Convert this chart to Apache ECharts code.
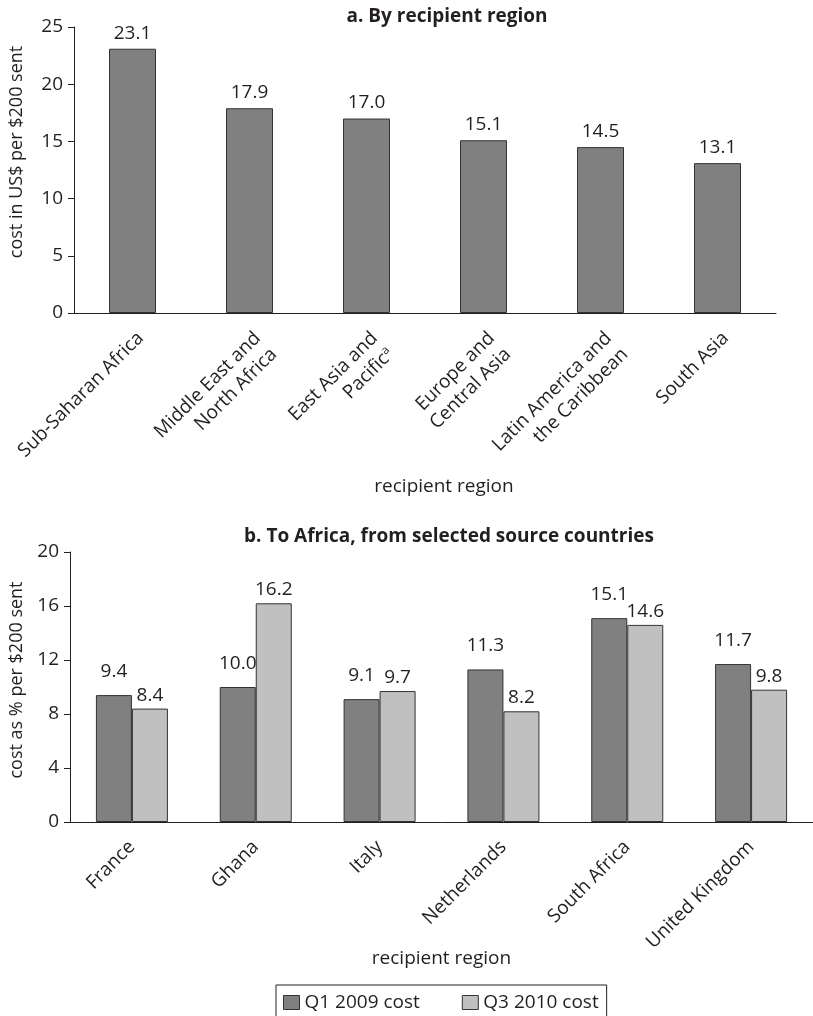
<!DOCTYPE html>
<html>
<head>
<meta charset="utf-8">
<script src="https://cdn.jsdelivr.net/npm/echarts@6/dist/echarts.min.js"></script>
<style>
html,body{margin:0;padding:0;background:#fff;}
#chart{width:813px;height:1016px;}
</style>
</head>
<body>
<div id="chart"></div>
<script>
// Panel a
const regionCategories = ['Sub-Saharan Africa', 'Middle East and\nNorth Africa', 'East Asia and\nPacific{sup|a}', 'Europe and\nCentral Asia', 'Latin America and\nthe Caribbean', 'South Asia'];
const regionCost = [23.1, 17.9, 17.0, 15.1, 14.5, 13.1];
const regionTicks = [0, 5, 10, 15, 20, 25];

// Panel b
const sourceCountries = ['France', 'Ghana', 'Italy', 'Netherlands', 'South Africa', 'United Kingdom'];
const q1_2009 = [9.4, 10.0, 9.1, 11.3, 15.1, 11.7];
const q3_2010 = [8.4, 16.2, 9.7, 8.2, 14.6, 9.8];
const sourceTicks = [0, 4, 8, 12, 16, 20];

const seriesNames = ['Q1 2009 cost', 'Q3 2010 cost'];
const titles = ['a. By recipient region', 'b. To Africa, from selected source countries'];
const xName = 'recipient region';
const yNames = ['cost in US$ per $200 sent', 'cost as % per $200 sent'];

const FONT = 'Open Sans';
const FS = 19;
const TXT = '#231f20';
const DARK = '#808080';
const LIGHT = '#c0c0c0';
const EDGE = '#333333';

const chart = echarts.init(document.getElementById('chart'), null, {renderer: 'canvas'});
chart.setOption({
  animation: false,
  backgroundColor: '#fff',
  textStyle: {fontFamily: FONT, color: TXT},
  title: [
    {text: titles[0], left: 442, top: 2, textAlign: 'center',
     textStyle: {fontFamily: FONT, fontWeight: 'bold', fontSize: 19, color: TXT}},
    {text: titles[1], left: 444, top: 522, textAlign: 'center',
     textStyle: {fontFamily: FONT, fontWeight: 'bold', fontSize: 19, color: TXT}}
  ],
  legend: {
    data: seriesNames,
    left: 276, top: 985,
    padding: [8, 8, 10, 7],
    itemWidth: 16, itemHeight: 14, itemGap: 42,
    borderColor: TXT, borderWidth: 1,
    icon: 'rect',
    textStyle: {fontFamily: FONT, fontSize: FS, color: TXT},
    itemStyle: {borderColor: EDGE, borderWidth: 1}
  },
  grid: [
    {left: 74, top: 27, width: 702, height: 286},
    {left: 70, top: 552, width: 747, height: 270}
  ],
  xAxis: [
    {type: 'category', gridIndex: 0, data: regionCategories,
     axisLine: {lineStyle: {color: TXT, width: 1}}, axisTick: {length: 6, lineStyle: {color: TXT}},
     axisLabel: {rotate: 45, margin: 14, verticalAlign: 'top', fontFamily: FONT, fontSize: FS, color: TXT, interval: 0,
       lineHeight: 23, rich: {sup: {fontSize: 12, padding: [0, 0, 9, 0], fontFamily: FONT, color: TXT}}},
     name: xName, nameLocation: 'middle', nameGap: 164, nameMoveOverlap: false,
     nameTextStyle: {fontFamily: FONT, fontSize: FS, color: TXT, padding: [0, 0, 0, 38]}},
    {type: 'category', gridIndex: 1, data: sourceCountries,
     axisLine: {lineStyle: {color: TXT, width: 1}}, axisTick: {length: 6, lineStyle: {color: TXT}},
     axisLabel: {rotate: 45, margin: 22, fontFamily: FONT, fontSize: FS, color: TXT, interval: 0},
     name: xName, nameLocation: 'middle', nameGap: 127, nameMoveOverlap: false,
     nameTextStyle: {fontFamily: FONT, fontSize: FS, color: TXT}}
  ],
  yAxis: [
    {type: 'value', gridIndex: 0, min: regionTicks[0], max: regionTicks[regionTicks.length - 1], interval: 5,
     axisLine: {show: true, lineStyle: {color: TXT}}, axisTick: {show: true, length: 6, lineStyle: {color: TXT}},
     splitLine: {show: false},
     axisLabel: {fontFamily: FONT, fontSize: FS, color: TXT, margin: 11},
     name: yNames[0], nameLocation: 'middle', nameGap: 48, nameMoveOverlap: false,
     nameTextStyle: {fontFamily: FONT, fontSize: 18, color: TXT, padding: [0, 0, 0, 36]}},
    {type: 'value', gridIndex: 1, min: sourceTicks[0], max: sourceTicks[sourceTicks.length - 1], interval: 4,
     axisLine: {show: true, lineStyle: {color: TXT}}, axisTick: {show: true, length: 6, lineStyle: {color: TXT}},
     splitLine: {show: false},
     axisLabel: {fontFamily: FONT, fontSize: FS, color: TXT, margin: 11},
     name: yNames[1], nameLocation: 'middle', nameGap: 44, nameMoveOverlap: false,
     nameTextStyle: {fontFamily: FONT, fontSize: 18, color: TXT, padding: [0, 0, 0, 14]}}
  ],
  series: [
    {type: 'bar', name: 'regions', xAxisIndex: 0, yAxisIndex: 0, data: regionCost,
     barWidth: 47,
     itemStyle: {color: DARK, borderColor: EDGE, borderWidth: 1},
     label: {show: true, position: 'top', distance: 6, fontFamily: FONT, fontSize: FS, color: TXT,
       formatter: p => p.value.toFixed(1)}},
    {type: 'bar', name: seriesNames[0], xAxisIndex: 1, yAxisIndex: 1, data: q1_2009,
     barWidth: 36, barGap: '0%',
     itemStyle: {color: DARK, borderColor: EDGE, borderWidth: 1},
     label: {show: true, position: 'top', distance: 14, fontFamily: FONT, fontSize: FS, color: TXT,
       formatter: p => p.value.toFixed(1)}},
    {type: 'bar', name: seriesNames[1], xAxisIndex: 1, yAxisIndex: 1, data: q3_2010,
     barWidth: 36, barGap: '0%',
     itemStyle: {color: LIGHT, borderColor: EDGE, borderWidth: 1},
     label: {show: true, position: 'top', distance: 4, fontFamily: FONT, fontSize: FS, color: TXT,
       formatter: p => p.value.toFixed(1)}}
  ]
});
</script>
</body>
</html>
